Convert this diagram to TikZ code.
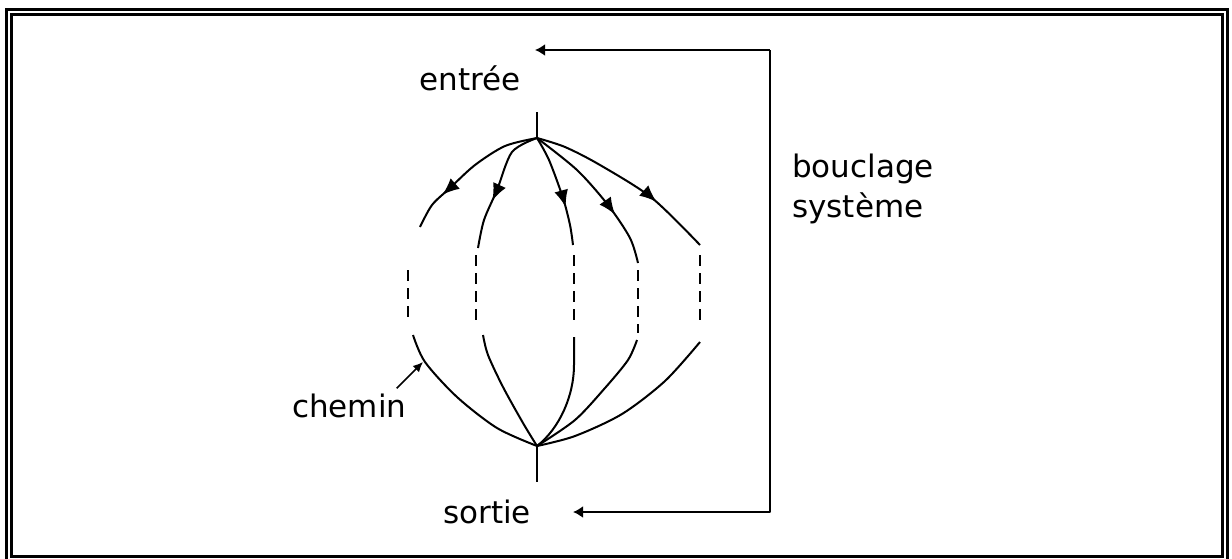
\documentclass[tikz,border=0pt]{standalone}
\usepackage{fontspec}
\setmainfont{DejaVu Sans}
\usetikzlibrary{arrows.meta,decorations.markings}
\begin{document}
\begin{tikzpicture}[x=1pt,y=-1pt,
  lbl/.style={font=\fontsize{31}{37}\selectfont, inner sep=0pt},
  wire/.style={line width=2pt, line join=round},
  dashpart/.style={line width=2pt, dash pattern=on 11pt off 7pt},
  frameline/.style={line width=3pt},
  midarrow/.style={postaction={decorate},
    decoration={markings, mark=at position #1 with {\arrow{Latex[length=17pt,width=14pt]}}}},
  looptip/.style={-{Latex[length=10pt,width=12pt]}}]
\useasboundingbox (0,0) rectangle (1232,558);
% frame
\draw[frameline] (6,570) -- (6,9) -- (1227,9) -- (1227,570);
\draw[frameline] (11,14) rectangle (1222,556);
% labels
\node[lbl, anchor=base] (entree) at (470,90) {entrée};
\node[lbl, anchor=base west] (sortie) at (443,523) {sortie};
\node[lbl, anchor=base west] (chemin) at (292,417) {chemin};
\node[lbl, anchor=base west] (boucl) at (792,177) {bouclage};
\node[lbl, anchor=base west] (syst) at (792,217) {système};
% key points
\coordinate (src) at (537,138);
\coordinate (snk) at (537,446);
\coordinate (srcTop) at (537,112);
\coordinate (snkBot) at (537,482);
\coordinate (topTip) at (535,50);
\coordinate (c1) at (770,50);
\coordinate (c2) at (770,512);
\coordinate (botTip) at (573,512);
\coordinate (chemTip) at (423,362);
% stubs
\draw[wire] (srcTop) -- (src);
\draw[wire] (snk) -- (snkBot);
% system loop
\draw[wire, looptip] (c1) -- (topTip);
\draw[wire, looptip] (c1) -- (c2) -- (botTip);
% path 1
\draw[wire, midarrow=0.74] plot[smooth] coordinates {(src) (505,146) (475,165) (450,188) (432,205) (420,227)};
\draw[dashpart] (408,270) -- (408,324);
\draw[wire] plot[smooth] coordinates {(413,335) (425,362) (457,397) (497,428) (snk)};
% path 2
\draw[wire, midarrow=0.62] plot[smooth] coordinates {(src) (512,152) (497,190) (484,220) (478,248)};
\draw[dashpart] (476,255) -- (476,322);
\draw[wire] plot[smooth] coordinates {(483,335) (488,355) (503,387) (523,423) (snk)};
% path 3
\draw[wire, midarrow=0.66] plot[smooth] coordinates {(src) (549,160) (563,198) (570,225) (573,245)};
\draw[dashpart] (574,255) -- (574,322);
\draw[wire] (574,337) -- (574,365) .. controls (574,395) and (560,428) .. (snk);
% path 4
\draw[wire, midarrow=0.67] plot[smooth] coordinates {(src) (577,170) (608,205) (630,238) (638,263)};
\draw[dashpart] (638,270) -- (638,333);
\draw[wire] plot[smooth] coordinates {(637,340) (628,360) (605,388) (575,420) (snk)};
% path 5
\draw[wire, midarrow=0.69] plot[smooth] coordinates {(src) (565,147) (600,165) (652,198) (700,245)};
\draw[dashpart] (700,255) -- (700,322);
\draw[wire] plot[smooth] coordinates {(700,342) (665,381) (622,414) (575,436) (snk)};
% chemin pointer
\draw[line width=1.6pt, -{Latex[length=10pt,width=9pt]}] ([shift={(-10,-5)}]chemin.north east) -- (chemTip);
\end{tikzpicture}
\end{document}
